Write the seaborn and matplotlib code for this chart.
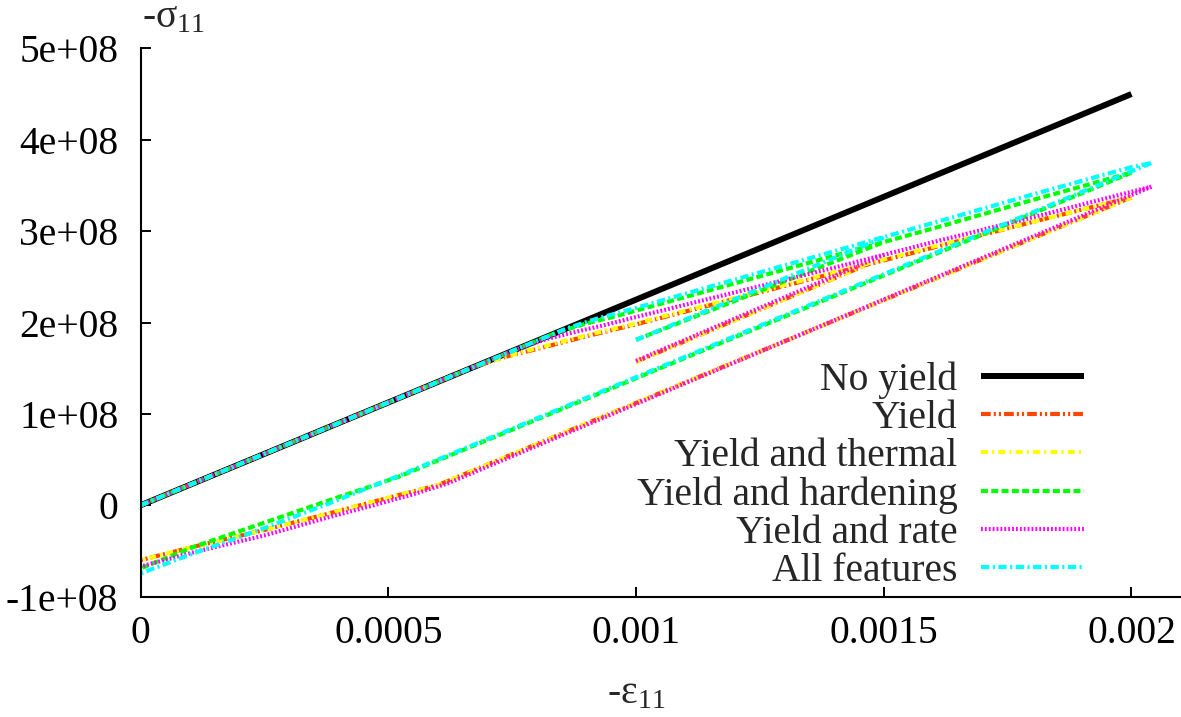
import matplotlib
matplotlib.use("Agg")
import matplotlib.pyplot as plt
import pandas as pd
import seaborn as sns

# ---------------- data (strain, stress in Pa) ----------------
series_names = ["No yield", "Yield", "Yield and thermal",
                "Yield and hardening", "Yield and rate", "All features"]

no_yield_x = [0.0, 0.002]
no_yield_y = [0.0, 4.5e8]

yield_load_x = [0.0, 0.00068, 0.00074, 0.0008, 0.0009, 0.001, 0.0012, 0.0014, 0.0016, 0.0018, 0.002]
yield_load_y = [0.0, 1.53e8, 1.63e8, 1.71e8, 1.85e8, 1.98e8, 2.26e8, 2.54e8, 2.82e8, 3.10e8, 3.37e8]
yield_unload_x = [0.002, 0.0006, 0.00052, 0.00045, 0.00038, 0.00025, 0.00011, 0.0]
yield_unload_y = [3.37e8, 0.22e8, 0.11e8, 0.01e8, -0.09e8, -0.27e8, -0.45e8, -0.60e8]
yield_reload_x = [0.001, 0.00146]
yield_reload_y = [1.57e8, 2.62e8]

thermal_load_x = [0.0, 0.00068, 0.00074, 0.0008, 0.0009, 0.001, 0.0012, 0.0014, 0.0016, 0.0018, 0.002]
thermal_load_y = [0.0, 1.53e8, 1.63e8, 1.72e8, 1.86e8, 1.99e8, 2.27e8, 2.55e8, 2.83e8, 3.10e8, 3.37e8]
thermal_unload_x = [0.002, 0.0006, 0.00052, 0.00045, 0.00038, 0.00025, 0.00011, 0.0]
thermal_unload_y = [3.37e8, 0.22e8, 0.11e8, 0.01e8, -0.09e8, -0.27e8, -0.45e8, -0.60e8]
thermal_reload_x = [0.001, 0.00146]
thermal_reload_y = [1.57e8, 2.62e8]

hard_load_x = [0.0, 0.00084, 0.0009, 0.00096, 0.001, 0.0012, 0.0014, 0.0016, 0.0018, 0.002]
hard_load_y = [0.0, 1.89e8, 1.99e8, 2.07e8, 2.13e8, 2.43e8, 2.73e8, 3.03e8, 3.34e8, 3.64e8]
hard_unload_x = [0.002, 0.00052, 0.00045, 0.0004, 0.00025, 0.00011, 0.0]
hard_unload_y = [3.64e8, 0.31e8, 0.18e8, 0.09e8, -0.19e8, -0.45e8, -0.69e8]
hard_reload_x = [0.001, 0.0015]
hard_reload_y = [1.81e8, 2.88e8]

rate_load_x = [0.0, 0.00076, 0.00082, 0.00088, 0.00095, 0.001, 0.0012, 0.0014, 0.0016, 0.0018, 0.002, 0.00204]
rate_load_y = [0.0, 1.71e8, 1.82e8, 1.90e8, 1.99e8, 2.06e8, 2.33e8, 2.60e8, 2.88e8, 3.15e8, 3.43e8, 3.486e8]
rate_unload_x = [0.00204, 0.00062, 0.00055, 0.00047, 0.00038, 0.00025, 0.00011, 0.0]
rate_unload_y = [3.486e8, 0.24e8, 0.12e8, 0.0, -0.13e8, -0.33e8, -0.51e8, -0.67e8]
rate_reload_x = [0.001, 0.0015]
rate_reload_y = [1.58e8, 2.74e8]

all_load_x = [0.0, 0.00086, 0.00092, 0.00098, 0.001, 0.0012, 0.0014, 0.0016, 0.0018, 0.002, 0.00204]
all_load_y = [0.0, 1.935e8, 2.04e8, 2.13e8, 2.16e8, 2.47e8, 2.78e8, 3.09e8, 3.40e8, 3.70e8, 3.745e8]
all_unload_x = [0.00204, 0.00052, 0.00045, 0.00038, 0.00025, 0.00011, 0.0]
all_unload_y = [3.745e8, 0.32e8, 0.17e8, 0.02e8, -0.25e8, -0.52e8, -0.745e8]
all_reload_x = [0.001, 0.0015]
all_reload_y = [1.81e8, 2.93e8]

x_tick_values = [0.0, 0.0005, 0.001, 0.0015, 0.002]
x_tick_labels = ["0", "0.0005", "0.001", "0.0015", "0.002"]
y_tick_values = [-1e8, 0, 1e8, 2e8, 3e8, 4e8, 5e8]
y_tick_labels = ["-1e+08", "0", "1e+08", "2e+08", "3e+08", "4e+08", "5e+08"]

# ---------------- styling ----------------
sns.set_style("ticks")
plt.rcParams["font.family"] = ["Liberation Serif", "DejaVu Serif"]
plt.rcParams["mathtext.fontset"] = "custom"
plt.rcParams["mathtext.rm"] = "Liberation Serif"
plt.rcParams["mathtext.default"] = "regular"
plt.rcParams["lines.scale_dashes"] = False
plt.rcParams["lines.solid_capstyle"] = "butt"
plt.rcParams["lines.dash_capstyle"] = "butt"

colors = ["#000000", "#ff4500", "#ffff00", "#00ff00", "#ff00ff", "#00ffff"]
widths = [4.3, 3.0, 3.0, 3.0, 3.0, 3.0]
styles = ["-", (0, (7, 2.2, 1.5, 2.2, 1.5, 2.2)), (0, (5, 3, 1.5, 3)),
          (0, (5, 2.4)), (0, (1.3, 1.5)), (0, (6, 2.5, 1.5, 2.5))]

segments = [
    [(no_yield_x, no_yield_y)],
    [(yield_load_x, yield_load_y), (yield_unload_x, yield_unload_y), (yield_reload_x, yield_reload_y)],
    [(thermal_load_x, thermal_load_y), (thermal_unload_x, thermal_unload_y), (thermal_reload_x, thermal_reload_y)],
    [(hard_load_x, hard_load_y), (hard_unload_x, hard_unload_y), (hard_reload_x, hard_reload_y)],
    [(rate_load_x, rate_load_y), (rate_unload_x, rate_unload_y), (rate_reload_x, rate_reload_y)],
    [(all_load_x, all_load_y), (all_unload_x, all_unload_y), (all_reload_x, all_reload_y)],
]

fig = plt.figure(figsize=(11.81, 7.17), dpi=100)
ax = fig.add_axes([0.119, 0.1678, 0.881, 0.7648])

handles = []
for name, segs, c, lw, ls in zip(series_names, segments, colors, widths, styles):
    rows = []
    for k, (xs, ys) in enumerate(segs):
        for xv, yv in zip(xs, ys):
            rows.append({"strain": xv, "stress": yv, "segment": k})
    df = pd.DataFrame(rows)
    n_before = len(ax.lines)
    sns.lineplot(data=df, x="strain", y="stress", units="segment", estimator=None,
                 sort=False, color=c, linewidth=lw, linestyle=ls, ax=ax, legend=False)
    handles.append(ax.lines[n_before])

ax.set_xlim(0, 0.0021)
ax.set_ylim(-1e8, 5e8)
ax.set_xticks(x_tick_values)
ax.set_xticklabels(x_tick_labels)
ax.set_yticks(y_tick_values)
ax.set_yticklabels(y_tick_labels)
ax.set_xlabel("")
ax.set_ylabel("")
ax.tick_params(axis="both", direction="in", length=7, width=1.4, labelsize=28.5,
               colors="black")
ax.tick_params(axis="y", pad=16)
ax.tick_params(axis="x", pad=13)
for side in ["top", "right"]:
    ax.spines[side].set_visible(False)
for side in ["left", "bottom"]:
    ax.spines[side].set_linewidth(1.5)
    ax.spines[side].set_color("black")

leg = ax.legend(handles, series_names, loc="lower right", bbox_to_anchor=(0.907, 0.012),
                markerfirst=False, frameon=False, fontsize=28.5, handlelength=2.6,
                handletextpad=0.6, labelspacing=0.03, borderpad=0, borderaxespad=0)

fig.text(142 / 1181, 1 - 27 / 717, "-σ$_{11}$", ha="left", va="baseline", fontsize=28.5)
fig.text(636 / 1181, 14 / 717, "-ε$_{11}$", ha="center", va="baseline", fontsize=28.5)

fig.savefig("out.png", dpi=100)
